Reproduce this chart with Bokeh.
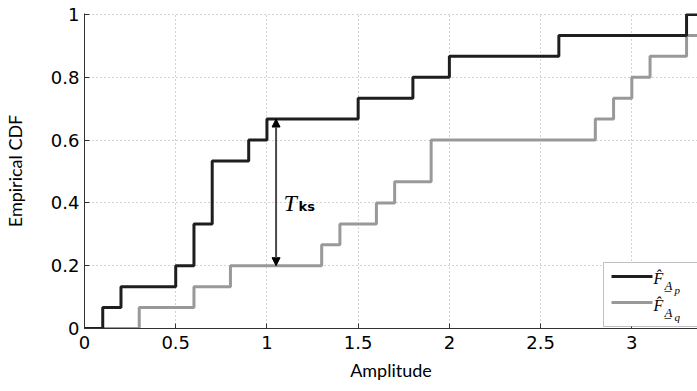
from bokeh.plotting import figure
from bokeh.models import Arrow, NormalHead, Label, BoxAnnotation
from bokeh.embed import file_html
from bokeh.resources import INLINE

# ---- data ----
black_x = [0, 0.1, 0.2, 0.5, 0.6, 0.7, 0.9, 1.0, 1.5, 1.8, 2.0, 2.6, 3.3, 3.6]
black_y = [0, 0.067, 0.133, 0.2, 0.333, 0.533, 0.6, 0.667, 0.733, 0.8, 0.867, 0.933, 1.0, 1.0]
gray_x = [0, 0.3, 0.6, 0.8, 1.3, 1.4, 1.6, 1.7, 1.9, 2.8, 2.9, 3.0, 3.1, 3.3, 3.6]
gray_y = [0, 0.067, 0.133, 0.2, 0.267, 0.333, 0.4, 0.467, 0.6, 0.667, 0.733, 0.8, 0.867, 0.933, 0.933]

x_ticks = [0, 0.5, 1, 1.5, 2, 2.5, 3]
x_tick_labels = ["0", "0.5", "1", "1.5", "2", "2.5", "3"]
y_ticks = [0, 0.2, 0.4, 0.6, 0.8, 1]
y_tick_labels = ["0", "0.2", "0.4", "0.6", "0.8", "1"]

ks_x = 1.05
ks_top = 0.667
ks_bottom = 0.2

BLACK = "#1e1e1e"
GRAY = "#999999"

X_END = 3.36
Y_END = 1.003
W, H = 697, 391
L, R, T, B = 84, 0, 13, 63

p = figure(width=W, height=H, x_range=(0, X_END), y_range=(0, Y_END),
           output_backend="svg", toolbar_location=None,
           min_border_left=L, min_border_right=R, min_border_top=T, min_border_bottom=B)
p.outline_line_color = None
p.background_fill_color = "white"
p.border_fill_color = "white"

# pixel -> data helpers for decorations
fw = W - L - R
fh = H - T - B
def px_x(px):
    return (px - L) / fw * X_END
def px_y(py):
    return (H - B - py) / fh * Y_END

# grid
for g in (p.xgrid, p.ygrid):
    g.grid_line_color = "#a6a6a6"
    g.grid_line_dash = "1 3"
    g.grid_line_width = 1

# axes
p.xaxis.ticker = x_ticks
p.xaxis.major_label_overrides = {t: s for t, s in zip(x_ticks, x_tick_labels)}
p.yaxis.ticker = y_ticks
p.yaxis.major_label_overrides = {t: s for t, s in zip(y_ticks, y_tick_labels)}
for ax in (p.xaxis, p.yaxis):
    ax.axis_line_color = "#333333"
    ax.axis_line_width = 1
    ax.major_tick_line_color = "#333333"
    ax.major_tick_in = 5
    ax.major_tick_out = 0
    ax.minor_tick_line_color = None
    ax.major_label_text_font = "DejaVu Sans"
    ax.major_label_text_font_size = "18px"
    ax.major_label_text_color = "black"
    ax.axis_label_text_font = "Lato"
    ax.axis_label_text_font_size = "18px"
    ax.axis_label_text_font_style = "normal"
    ax.axis_label_text_color = "black"
p.xaxis.major_label_standoff = 7
p.yaxis.major_label_standoff = 5
p.xaxis.axis_label = "Amplitude"
p.yaxis.axis_label = "Empirical CDF"
p.xaxis.axis_label_standoff = 7
p.yaxis.axis_label_standoff = 22

# ECDF step lines
p.step(gray_x, gray_y, mode="after", line_color=GRAY, line_width=3)
p.step(black_x, black_y, mode="after", line_color=BLACK, line_width=3)

# KS double arrow
p.add_layout(Arrow(start=NormalHead(size=8, fill_color="black", line_color="black"),
                   end=NormalHead(size=8, fill_color="black", line_color="black"),
                   x_start=ks_x, y_start=ks_bottom, x_end=ks_x, y_end=ks_top,
                   line_color="#4a4a4a", line_width=2))
p.add_layout(Label(x=px_x(283), y=px_y(202), text="T", text_font="Liberation Serif",
                   text_font_style="italic", text_font_size="24px", text_color="black",
                   text_baseline="alphabetic", text_align="left"))
p.add_layout(Label(x=px_x(298), y=px_y(206), text="ks", text_font="DejaVu Sans",
                   text_font_style="bold", text_font_size="13px", text_color="black",
                   text_baseline="alphabetic", text_align="left"))

# legend (manual)
p.add_layout(BoxAnnotation(left=px_x(603), right=X_END + 0.2, bottom=px_y(326), top=px_y(262),
                           fill_color="white", fill_alpha=1, line_color="#333333", line_width=1))
for col, py in ((BLACK, 276), (GRAY, 302)):
    r = p.segment(x0=[px_x(611)], y0=[px_y(py)], x1=[px_x(652)], y1=[px_y(py)],
                  line_color=col, line_width=3)
    r.level = "overlay"

def leg_label(px, py, txt, size):
    lab = Label(x=px_x(px), y=px_y(py), text=txt, text_font="Liberation Serif",
                text_font_style="italic", text_font_size=size, text_color="black",
                text_baseline="alphabetic", text_align="left")
    lab.level = "overlay"
    p.add_layout(lab)

for sub, base in (("p", 278), ("q", 305)):
    leg_label(653, base, "F\u0302", "16px")
    leg_label(664, base + 7, "A\u0332", "13px")
    leg_label(674, base + 11, sub, "11px")

open("out.html", "w").write(file_html(p, INLINE))
